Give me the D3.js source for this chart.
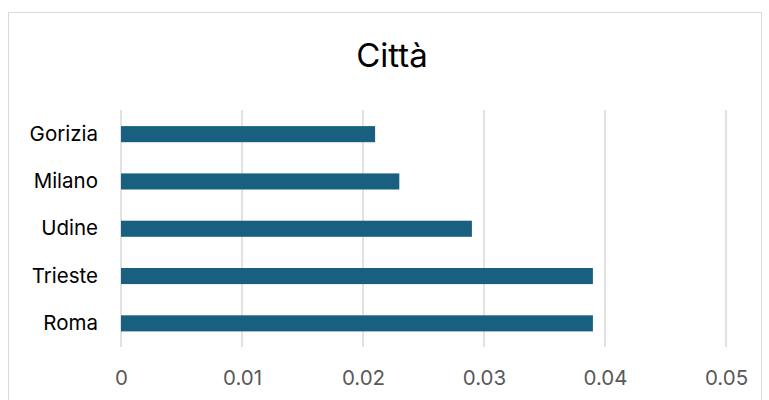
<!DOCTYPE html>
<html>
<head>
<meta charset="utf-8">
<script src="https://cdn.jsdelivr.net/npm/d3@7"></script>
<style>
  body { margin: 0; background: #fff; }
  text { font-family: Inter, "Open Sans", sans-serif; }
</style>
</head>
<body>
<script>
const width  = 769;
const height = 400;

// data
const cities = ['Gorizia', 'Milano', 'Udine', 'Trieste', 'Roma'];
const values = [0.021, 0.023, 0.029, 0.039, 0.039];
const ticks  = [0, 0.01, 0.02, 0.03, 0.04, 0.05];

const fontFamily = 'Inter, "Open Sans", sans-serif';

const svg = d3.select('body').append('svg')
  .attr('width', width)
  .attr('height', height);

// chart frame
svg.append('rect')
  .attr('x', 8.5).attr('y', 12.5)
  .attr('width', 753).attr('height', 400)
  .attr('fill', '#fff')
  .attr('stroke', '#d9d9d9');

svg.append('text')
  .attr('x', 392).attr('y', 67)
  .attr('text-anchor', 'middle')
  .style('font-size', '33px')
  .style('fill', '#000')
  .text('Città');

const x = d3.scaleLinear().domain([0, 0.05]).range([121, 726]);
const y = d3.scaleBand().domain(cities).range([110.5, 347]).paddingInner(0.66).paddingOuter(0.33);

// gridlines
svg.append('g').selectAll('line')
  .data(ticks)
  .enter().append('line')
  .attr('x1', d => x(d)).attr('x2', d => x(d))
  .attr('y1', 110).attr('y2', 347)
  .attr('stroke', '#d9d9d9')
  .attr('stroke-width', 1.5);

// bars
svg.append('g').selectAll('rect')
  .data(cities)
  .enter().append('rect')
  .attr('x', x(0))
  .attr('y', d => y(d))
  .attr('width', (d, i) => x(values[i]) - x(0))
  .attr('height', y.bandwidth())
  .attr('fill', '#195f80');

// x tick labels
const xAxis = d3.axisBottom(x).tickValues(ticks).tickSize(0).tickPadding(0)
  .tickFormat(d => d === 0 ? '0' : d3.format('.2f')(d));
const gx = svg.append('g').attr('transform', 'translate(0,370)').call(xAxis);
gx.select('.domain').remove();
gx.selectAll('text')
  .attr('dy', '0.71em')
  .style('font-size', '20.5px')
  .style('font-family', fontFamily)
  .style('fill', '#595959');

// category labels
const yAxis = d3.axisLeft(y).tickSize(0).tickPadding(0);
const gy = svg.append('g').attr('transform', 'translate(98,0)').call(yAxis);
gy.select('.domain').remove();
gy.selectAll('text')
  .style('font-size', '20.5px')
  .style('font-family', fontFamily)
  .style('fill', '#000');
</script>
</body>
</html>
